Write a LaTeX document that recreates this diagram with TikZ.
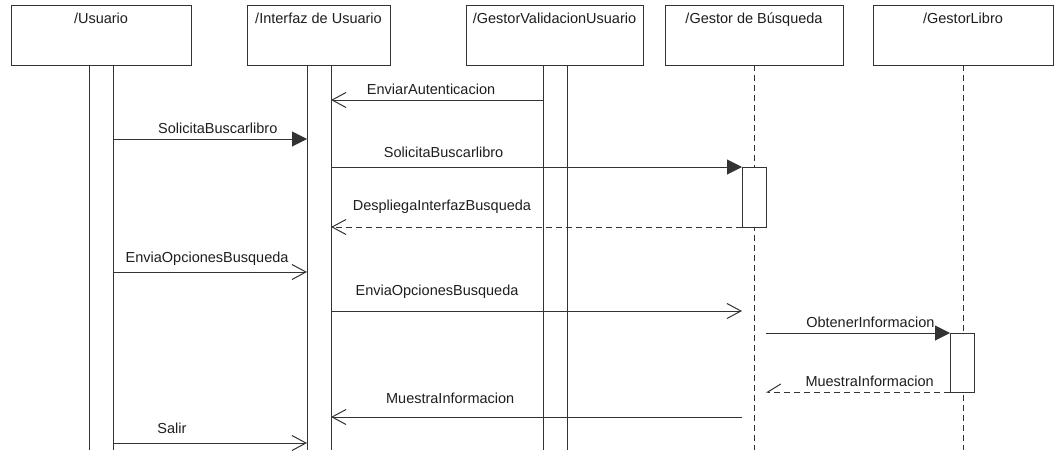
\documentclass[tikz,border=0pt]{standalone}
\usepackage{fontspec}
\setmainfont{Liberation Sans}
\usetikzlibrary{arrows.meta}
\definecolor{ink}{HTML}{333333}
\definecolor{txt}{HTML}{1E1E1E}
\begin{document}
\begin{tikzpicture}[x=1pt,y=-1pt,
  every node/.style={font=\fontsize{14.5}{16}\selectfont, text=txt, inner sep=0pt, outer sep=0pt},
  head/.style={draw=ink, line width=1pt, fill=white, minimum width=#1,
    minimum height=60pt, anchor=north west},
  title/.style={anchor=base, yshift=-18pt},
  bar/.style={minimum width=24pt, minimum height=385pt, anchor=north},
  act/.style={draw=ink, line width=1pt, fill=white, minimum width=24pt,
    minimum height=#1, anchor=north west},
  life/.style={draw=ink, line width=1pt, dash pattern=on 6pt off 4pt},
  msg/.style={draw=ink, line width=1pt},
  ret/.style={msg, dash pattern=on 6pt off 4pt},
  sync/.style={-{Triangle[length=15pt,width=15pt]}},
  async/.style={-{Straight Barb[length=14pt,width=15pt]}},
  lbl/.style={anchor=base, yshift=#1},
  lbl/.default=6pt
]
\useasboundingbox (0,0) rectangle (1054,450);

% lifeline heads
\node[head=180pt, label={[title]north:/Usuario}] (usr) at (11,5) {};
\node[head=143pt, label={[title]north:/Interfaz de Usuario}] (ui) at (247,5) {};
\node[head=177pt, label={[title]north:/GestorValidacionUsuario}] (val) at (466,5) {};
\node[head=178pt, label={[title]north:/Gestor de Búsqueda}] (busq) at (665,5) {};
\node[head=180pt, label={[title]north:/GestorLibro}] (libro) at (873,5) {};

% long activation bars (open at the bottom)
\node[bar] (ubar) at (101,65) {};
\node[bar] (ibar) at (319,65) {};
\node[bar] (vbar) at (555,65) {};
\foreach \b in {ubar,ibar,vbar}
  \draw[msg] (\b.north west) -- (\b.south west) (\b.north east) -- (\b.south east);

% dashed lifelines
\draw[life] (busq.south) -- ++(0,385);
\draw[life] (libro.south) -- ++(0,385);

% short activations
\node[act=60pt] (bact) at (742,167) {};
\node[act=59pt] (lact) at (950,333) {};

% messages
\draw[msg, async] (vbar.west |- 0,100) -- (ibar.east |- 0,100)
  node[lbl, pos=.528] {EnviarAutenticacion};
\draw[msg, sync] (ubar.east |- 0,139) -- (ibar.west |- 0,139)
  node[lbl, pos=.54] {SolicitaBuscarlibro};
\draw[msg, sync] (ibar.east |- 0,167) -- (bact.north west)
  node[lbl=10pt, pos=.274] {SolicitaBuscarlibro};
\draw[ret, async] (bact.south west) -- (ibar.east |- 0,227)
  node[lbl=17pt, pos=.73] {DespliegaInterfazBusqueda};
\draw[msg, async] (ubar.east |- 0,272) -- (ibar.west |- 0,272)
  node[lbl=10pt, pos=.485] {EnviaOpcionesBusqueda};
\draw[msg, async] (ibar.east |- 0,311) -- (bact.west |- 0,311)
  node[lbl=16pt, pos=.258] {EnviaOpcionesBusqueda};
\draw[msg, sync] (bact.east |- 0,333) -- (lact.north west)
  node[lbl, pos=.567] {ObtenerInformacion};
\draw[ret, -{Straight Barb[right,length=13pt,width=16pt]}] (lact.south west) -- (bact.east |- 0,392)
  node[lbl, pos=.437] {MuestraInformacion};
\draw[msg, async] (bact.west |- 0,417) -- (ibar.east |- 0,417)
  node[lbl=14pt, pos=.71] {MuestraInformacion};
\draw[msg, async] (ubar.east |- 0,443) -- (ibar.west |- 0,443)
  node[lbl=10pt, pos=.304] {Salir};
\end{tikzpicture}
\end{document}
